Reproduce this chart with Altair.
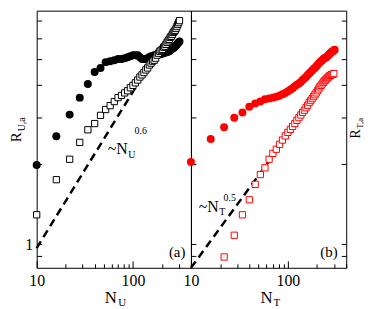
import altair as alt
import pandas as pd

SERIF = "Liberation Serif"

# ---- data ----
N_U_circ = [10, 16, 22, 28, 34, 40, 46, 52, 58, 64, 70, 76, 82, 88, 94, 100, 106, 112, 118, 124,
            130, 136, 142, 148, 154, 160, 166, 172, 178, 184, 190, 196, 202, 208, 214, 220, 226, 232, 238, 244,
            250, 256, 262, 268, 274, 280, 286, 292, 298, 304]
R_U_circ = [1.99, 2.55, 3.08, 3.57, 4.02, 4.46, 4.62, 4.86, 4.90, 4.94, 4.99, 4.99, 5.03, 5.07, 5.12, 5.16, 5.16, 5.16, 5.07, 4.99,
            4.99, 4.99, 5.03, 5.07, 5.12, 5.12, 5.16, 5.16, 5.16, 5.21, 5.21, 5.21, 5.25, 5.25, 5.30, 5.30, 5.30, 5.34, 5.34, 5.39,
            5.43, 5.48, 5.48, 5.53, 5.58, 5.62, 5.67, 5.72, 5.77, 5.82]
N_U_sq = N_U_circ
R_U_sq = [1.29, 1.75, 2.09, 2.42, 2.70, 2.85, 3.06, 3.22, 3.33, 3.45, 3.57, 3.64, 3.72, 3.79, 3.89, 3.97, 4.06, 4.16, 4.27, 4.35,
          4.44, 4.54, 4.62, 4.74, 4.82, 4.90, 4.94, 5.03, 5.16, 5.25, 5.34, 5.39, 5.43, 5.53, 5.58, 5.67, 5.77, 5.85, 5.92, 6.03,
          6.08, 6.18, 6.29, 6.34, 6.40, 6.51, 6.62, 6.74, 6.85, 6.97]
N_T_circ = N_U_circ
R_T_circ = [2.04, 2.49, 2.76, 3.00, 3.14, 3.30, 3.39, 3.45, 3.52, 3.54, 3.57, 3.60, 3.63, 3.68, 3.72, 3.77, 3.82, 3.87, 3.94, 3.99,
            4.04, 4.09, 4.16, 4.22, 4.27, 4.35, 4.40, 4.46, 4.52, 4.58, 4.62, 4.68, 4.74, 4.80, 4.86, 4.90, 4.94, 4.99, 5.03, 5.05,
            5.07, 5.12, 5.16, 5.21, 5.25, 5.30, 5.32, 5.34, 5.39, 5.41]
N_T_sq = [22, 28, 34, 40, 46, 52, 58, 64, 70, 76, 82, 88, 94, 100, 106, 112, 118, 124, 130, 136,
          142, 148, 154, 160, 166, 172, 178, 184, 190, 196, 202, 208, 214, 220, 226, 232, 238, 244, 250, 256,
          262, 268, 274, 280, 286, 292, 298]
R_T_sq = [0.894, 1.08, 1.29, 1.47, 1.68, 1.83, 1.94, 2.09, 2.20, 2.28, 2.38, 2.47, 2.56, 2.64, 2.71, 2.78, 2.85, 2.93, 3.00, 3.07,
          3.14, 3.20, 3.27, 3.34, 3.42, 3.48, 3.54, 3.60, 3.66, 3.72, 3.79, 3.85, 3.92, 3.97, 4.02, 4.08, 4.13, 4.16, 4.20, 4.24,
          4.27, 4.31, 4.33, 4.35, 4.36, 4.38, 4.40]
N_U_fit = [10, 112]
R_U_fit = [0.966, 4.02]
N_T_fit = [10, 120]
R_T_fit = [0.814, 2.82]

X_DOMAIN = [10, 400]
Y_DOMAIN = [0.814, 7.6]
X_LABELS = [10, 100]
Y_LABELS = [1]
X_TICKS = [10, 20, 30, 40, 50, 60, 70, 80, 90, 100, 200, 300, 400]
Y_TICKS = [0.9, 1, 2, 3, 4, 5, 6, 7]

W1, W2, H = 156, 157, 260

xs = alt.Scale(type="log", domain=X_DOMAIN, nice=False)
ys = alt.Scale(type="log", domain=Y_DOMAIN, nice=False)

major = {"condition": {"test": "datum.value == 10 || datum.value == 100", "value": 7}, "value": 4}

x_lab_axis = alt.Axis(orient="bottom", values=X_LABELS, format="d", ticks=False, domain=False, grid=False,
                      title=None, labelPadding=5, labelFlush=False, labelOverlap=False)
x_tick_axis = alt.Axis(orient="top", offset=-H, values=X_TICKS, tickSize=major, labels=False,
                       domain=False, grid=False, title=None)
y_lab_axis = alt.Axis(orient="left", values=Y_LABELS, format="d", ticks=False, domain=False, grid=False,
                      title=None, labelPadding=4)


def y_tick_axis(orient, w):
    return alt.Axis(orient=orient, offset=-w, values=Y_TICKS, tickSize=5, labels=False,
                    domain=False, grid=False, title=None)


def txt(s, x, y, size, align="center", baseline="alphabetic", angle=0):
    return alt.Chart(pd.DataFrame({"t": [s]})).mark_text(
        text=s, font=SERIF, fontSize=size, align=align, baseline=baseline, angle=angle, color="black"
    ).encode(x=alt.value(x), y=alt.value(y))


def pts(N, R, filled, color, xaxis=None, yaxis=None):
    df = pd.DataFrame({"N": N, "R": R})
    if filled:
        mk = alt.Chart(df).mark_point(shape="circle", filled=True, size=65, color=color, opacity=1)
    else:
        mk = alt.Chart(df).mark_point(shape="square", filled=True, size=40, fill="white", stroke=color,
                                      strokeWidth=1, opacity=1)
    return mk.encode(x=alt.X("N:Q", scale=xs, axis=xaxis), y=alt.Y("R:Q", scale=ys, axis=yaxis))


def fit(N, R, xaxis, yaxis):
    df = pd.DataFrame({"N": N, "R": R})
    return alt.Chart(df).mark_line(color="black", strokeWidth=2.5, strokeDash=[8, 5]).encode(
        x=alt.X("N:Q", scale=xs, axis=xaxis), y=alt.Y("R:Q", scale=ys, axis=yaxis))


left = alt.layer(
    fit(N_U_fit, R_U_fit, x_tick_axis, y_tick_axis("right", W1)),
    pts(N_U_circ, R_U_circ, True, "black", x_lab_axis, y_lab_axis),
    pts(N_U_sq, R_U_sq, False, "black"),
    txt("~N", 92, 145, 16, align="right"),
    txt("U", 92.5, 149, 10, align="left"),
    txt("0.6", 99, 125, 10, align="left"),
    txt("(a)", 142, 244, 15, baseline="middle"),
    txt("N", 75, 296, 17),
    txt("U", 82.5, 299, 11, align="left"),
    txt("R", -28, 128, 15, baseline="top", angle=270),
    txt("U,a", -20, 122, 10, align="left", baseline="top", angle=270),
).resolve_axis(x="independent", y="independent").properties(width=W1, height=H)

right = alt.layer(
    fit(N_T_fit, R_T_fit, x_tick_axis, y_tick_axis("left", W2)),
    pts(N_T_circ, R_T_circ, True, "red", x_lab_axis, y_tick_axis("right", W2)),
    pts(N_T_sq, R_T_sq, False, "red"),
    txt("~N", 28, 204, 16, align="right"),
    txt("T", 28.5, 207, 10, align="left"),
    txt("0.5", 33, 192, 10, align="left"),
    txt("(b)", 139.5, 244, 15, baseline="middle"),
    txt("N", 76.5, 296, 17),
    txt("T", 83.5, 299, 11, align="left"),
    txt("R", 171, 124.5, 14, angle=270),
    txt("T,a", 174, 119.5, 9, align="left", angle=270),
).resolve_axis(x="independent", y="independent").properties(width=W2, height=H)

chart = alt.hconcat(left, right, spacing=0, bounds="flush").properties(padding=0).configure_view(
    stroke="black", strokeWidth=1
).configure_axis(
    labelFont=SERIF, labelFontSize=16, labelColor="black", tickColor="black", tickWidth=1
)

chart.save("out.html", embed_options={"renderer": "svg", "actions": False})
